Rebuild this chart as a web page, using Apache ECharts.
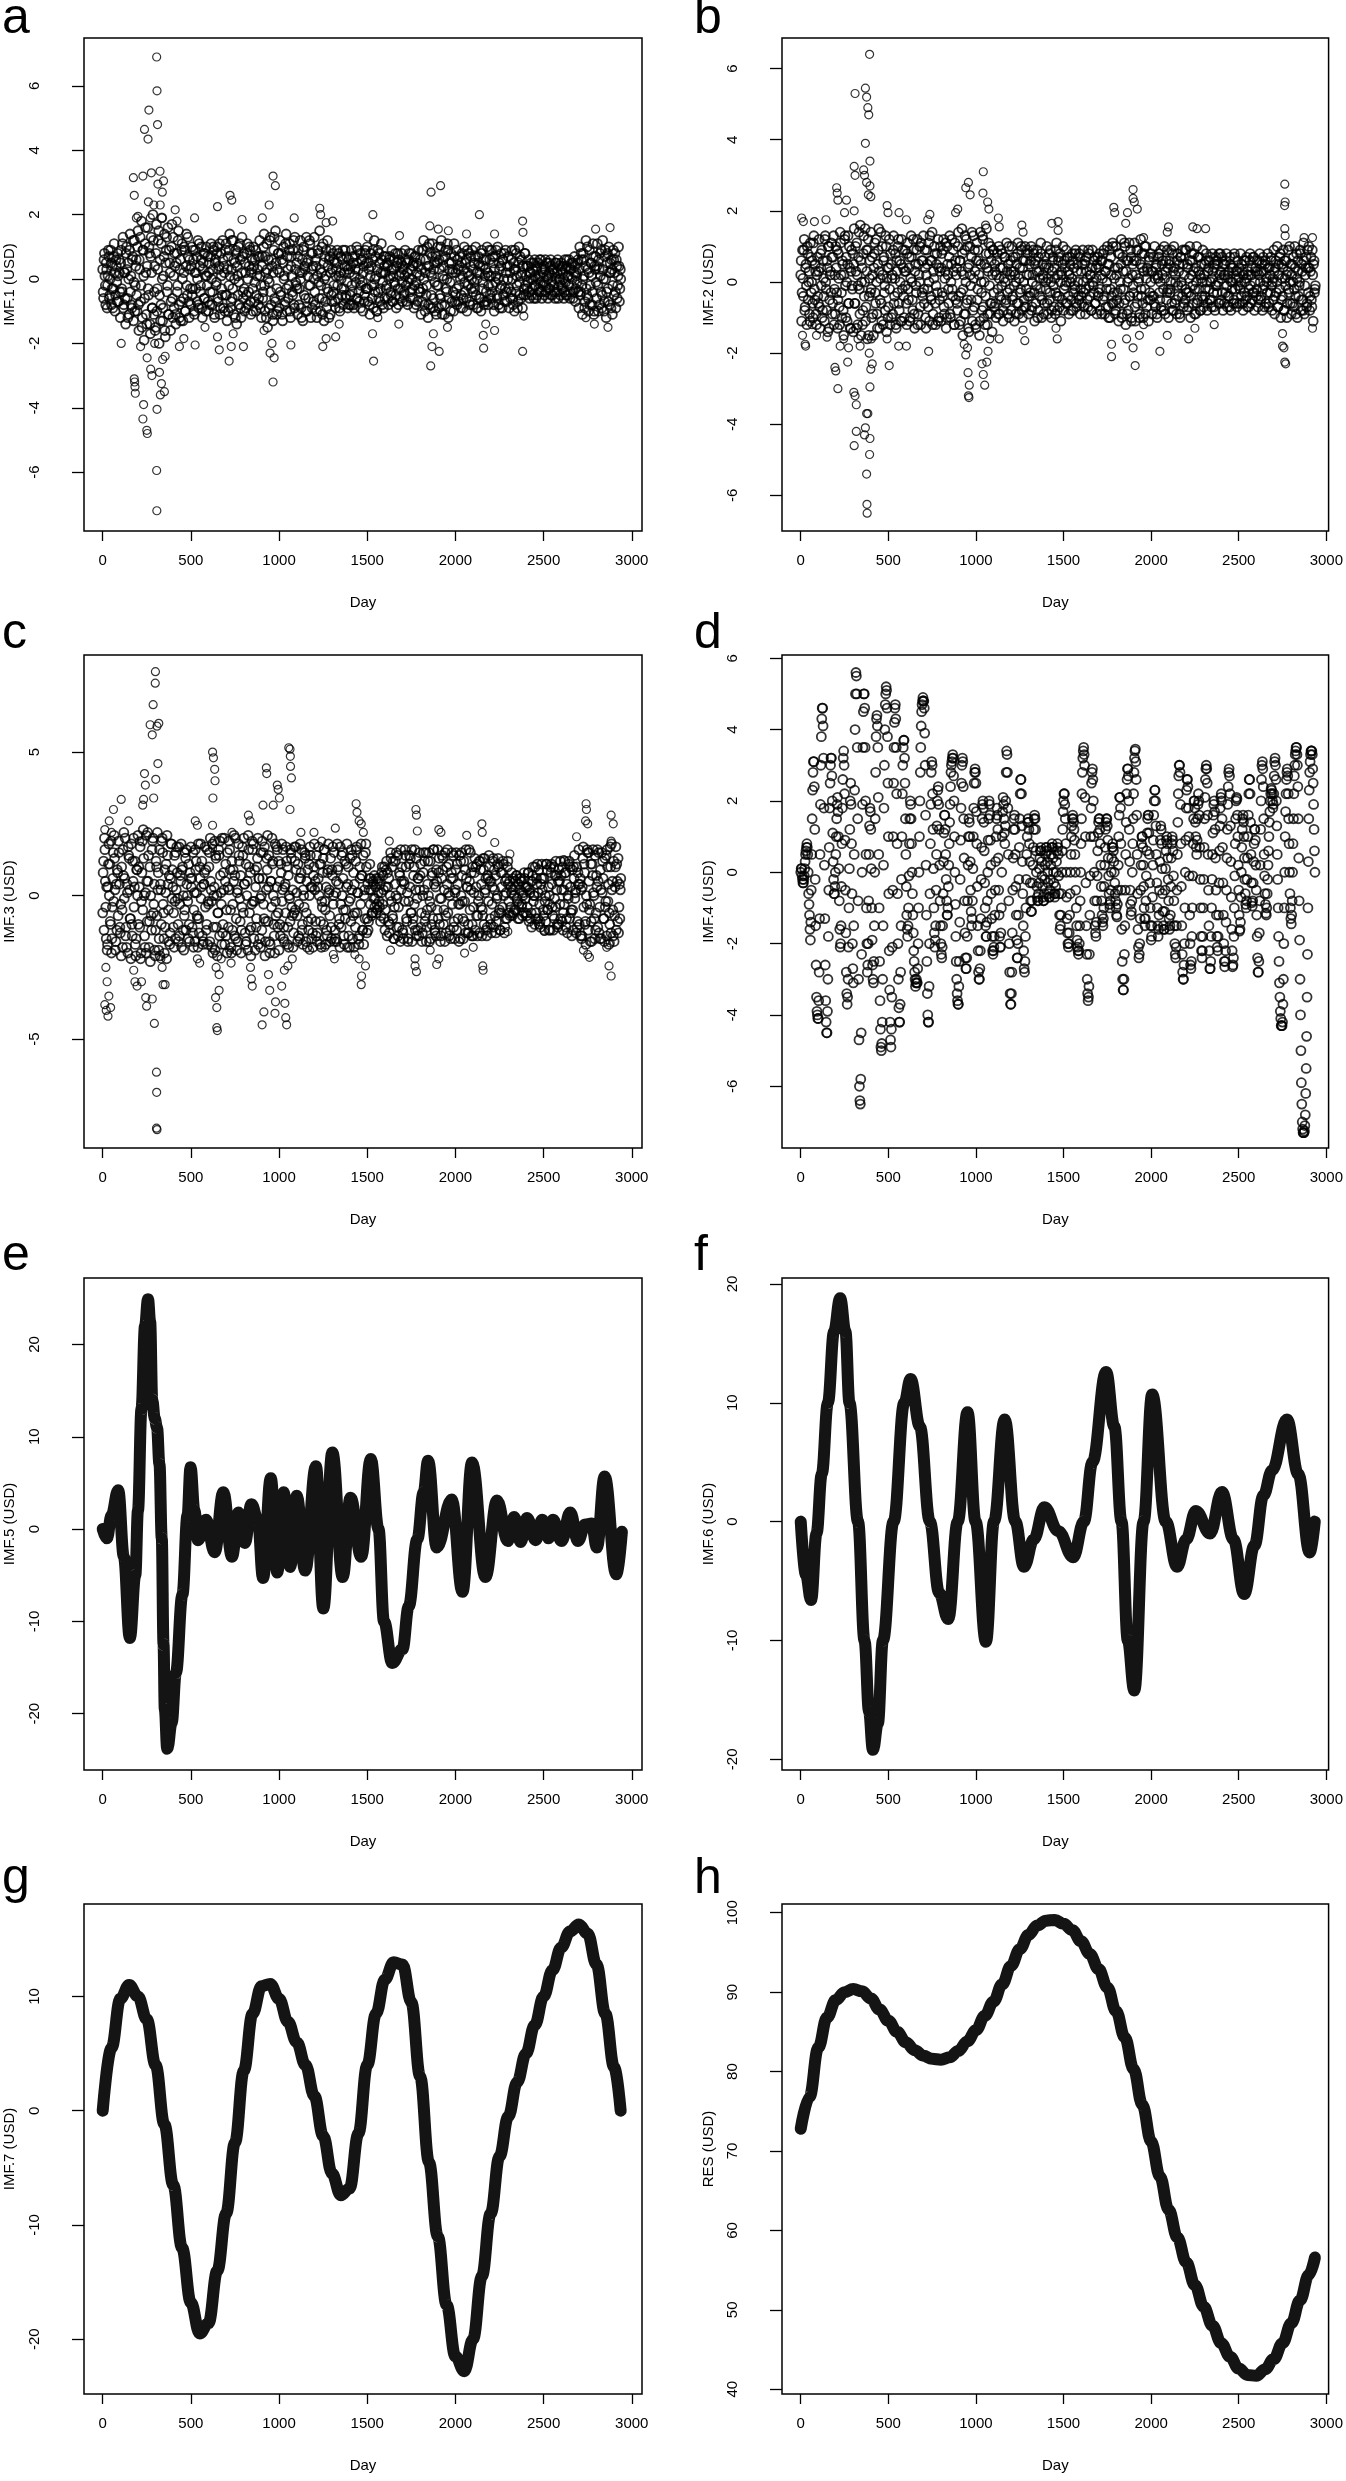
<!DOCTYPE html>
<html>
<head>
<meta charset="utf-8">
<title>IMF components</title>
<script src="https://cdn.jsdelivr.net/npm/echarts@6/dist/echarts.min.js"></script>
<style>
html,body{margin:0;padding:0;background:#fff;}
#container{width:1346px;height:2481px;}
</style>
</head>
<body>
<div id="container"></div>
<script>
// noisy IMFs are read every 5 days (plus a second pass half way between),
// the far-out points are listed apart
var step = 5;

var imf1 = [
0.3,-0.6,0.8,-0.2,0.5,-0.9,0.1,0.7,-0.5,0.9,-0.8,0.4,-0.3,1.1,-1.0,0.6,-0.1,0.8,-0.7,0.2,
-1.2,0.9,-0.4,1.3,-0.8,0.2,-1.4,1.0,-0.6,0.5,-1.1,1.4,0.1,-0.9,0.7,-1.3,1.2,-0.2,0.6,-1.0,
1.5,-1.6,0.3,-0.7,1.8,-1.2,0.9,-1.9,1.1,0.2,-1.4,1.6,-0.5,0.8,-1.7,1.3,-0.9,2.0,-1.1,0.4,
-1.5,1.7,-0.3,1.2,-2.0,0.6,-0.8,1.9,-1.3,0.1,1.4,-1.8,0.9,-0.4,1.6,-1.1,0.5,-1.6,1.0,-0.6,
1.3,-0.9,0.4,-1.4,0.8,-0.2,1.5,-1.2,0.6,-0.7,1.1,-1.3,0.2,0.9,-1.0,1.4,-0.5,0.7,-1.2,0.3,
-0.8,1.0,-0.3,0.6,-1.1,0.9,0.2,-0.7,1.2,-0.9,0.4,-0.2,1.0,-1.2,0.5,-0.6,0.8,-1.0,0.1,0.7,
-1.0,0.5,-0.4,1.1,-0.8,0.3,0.9,-1.2,0.6,-0.1,1.0,-0.7,0.4,-1.1,0.8,-0.3,1.2,-0.9,0.2,-0.5,
1.1,-1.3,0.7,-0.2,1.4,-0.9,0.3,-0.6,1.2,-1.1,0.5,0.9,-1.4,0.1,1.0,-0.8,0.6,-1.2,1.3,-0.4,
0.8,-1.0,0.2,-0.5,1.1,-0.8,0.4,0.9,-1.1,0.3,-0.3,1.0,-0.7,0.6,-1.0,0.1,0.7,-0.6,1.2,-0.9,
-1.2,0.7,-0.4,1.4,-1.0,0.2,1.1,-1.5,0.6,-0.1,1.3,-0.8,0.4,-1.3,0.9,-0.6,1.5,-1.1,0.3,0.8,
-0.9,1.2,-0.5,0.6,-1.3,1.0,0.1,-0.7,1.4,-1.0,0.3,-0.2,1.1,-1.2,0.7,-0.4,0.9,-0.8,1.3,-0.1,
0.5,-1.1,0.9,-0.3,1.2,-0.9,0.2,-1.3,1.0,0.4,-0.6,1.3,-1.0,0.6,-0.2,1.1,-1.2,0.3,0.8,-0.7,
1.3,-0.8,0.4,-1.2,0.9,-0.1,1.5,-1.0,0.2,-0.6,1.1,-1.3,0.7,0.1,-0.9,1.2,-0.4,0.6,-1.1,0.9,
-0.7,0.8,-0.2,0.5,-0.9,0.3,0.9,-0.6,0.1,-1.0,0.7,-0.3,0.6,-0.8,0.2,0.9,-0.5,0.4,-0.9,0.6,
0.2,-0.8,0.9,-0.4,0.5,-0.9,0.7,-0.1,1.0,-0.6,0.3,-0.7,0.8,-0.2,0.6,-1.0,0.4,-0.5,0.9,-0.3,
1.0,-0.7,0.3,-1.1,0.8,-0.2,0.6,-0.9,1.2,-0.4,0.1,-1.0,0.9,-0.6,0.5,-0.3,1.1,-0.8,0.2,0.7,
-0.6,0.7,-0.2,0.4,-0.8,0.6,0.1,-0.5,0.9,-0.7,0.3,-0.1,0.8,-0.9,0.5,-0.3,0.6,-0.6,0.2,0.8,
-0.7,0.3,-0.4,0.9,-0.2,0.5,-0.8,0.6,0.0,-0.6,0.8,-0.3,0.4,-0.9,0.7,-0.1,0.5,-0.7,0.9,-0.4,
0.6,-1.1,0.9,-0.3,1.2,-0.8,0.2,-0.5,1.0,-1.2,0.4,0.8,-0.9,0.1,1.1,-0.6,0.5,-1.0,0.7,-0.2,
1.0,-0.9,0.3,-0.6,1.2,-1.1,0.6,0.0,-0.8,0.9,-0.4,1.1,-1.2,0.5,-0.1,0.8,-0.7,0.3,-1.0,0.7,
-0.5,0.9,-0.8,0.3,-0.2,0.7,-0.9,0.5,0.1,-0.6,1.0,-0.4,0.6,-1.0,0.2,0.8,-0.7,0.4,-0.3,0.9,
-0.8,0.5,-0.3,1.0,-0.9,0.2,0.7,-0.6,0.4,-1.0,0.9,-0.1,0.6,-0.7,0.3,-0.4,1.0,-0.8,0.1,0.6,
-0.6,0.9,-0.2,0.5,-1.0,0.7,0.1,-0.5,1.0,-0.8,0.3,-0.3,0.8,-0.9,0.6,0.0,-0.7,0.9,-0.4,0.4,
0.7,-0.9,0.2,-0.4,0.9,-0.6,0.5,-1.0,0.3,0.8,-0.2,-0.7,1.0,-0.5,0.1,0.6,-0.9,0.4,-0.3,0.8,
-0.5,0.4,-0.1,0.6,-0.6,0.2,0.5,-0.3,0.0,-0.6,0.6,-0.2,0.3,-0.5,0.5,-0.4,0.1,0.6,-0.6,0.2,
0.4,-0.5,0.6,-0.2,0.1,-0.6,0.5,-0.3,0.6,-0.1,-0.5,0.3,0.2,-0.6,0.5,-0.4,0.6,-0.2,0.0,-0.5,
0.5,-0.3,0.2,-0.6,0.6,-0.1,0.4,-0.5,0.1,0.6,-0.6,0.3,-0.2,0.5,-0.4,0.7,-0.7,0.2,-0.1,0.6,
-0.9,1.0,-0.4,0.6,-1.1,0.8,0.1,-0.7,1.2,-0.5,0.3,-1.0,0.9,-0.2,0.5,-0.8,1.1,-1.1,0.4,0.7,
-0.6,1.1,-1.0,0.3,0.8,-0.4,-0.9,1.2,0.0,-0.7,0.9,-1.2,0.5,-0.3,1.0,-0.8,0.2,0.6,-1.1,0.9,
-0.5,0.8,-0.9,0.4,-0.2,1.0,-0.7,0.3
];
var imf1Mid = [
-0.4,0.6,0.1,-0.8,0.3,-0.2,0.9,-0.6,0.0,0.5,-0.3,-0.9,0.7,0.2,-0.5,0.4,-0.7,0.1,0.6,-0.4,
0.5,-0.3,1.1,-0.9,0.2,-0.6,0.8,0.3,-1.2,0.0,0.9,-0.4,-0.8,0.6,1.2,-0.1,-1.0,0.4,-0.5,1.0,
-0.8,0.6,1.3,-0.2,-1.5,0.9,0.1,-0.6,1.6,-1.1,0.4,-0.3,1.0,-1.4,0.7,0.2,-0.9,1.2,-0.4,-1.6,
0.8,-1.0,0.3,1.5,-0.5,-1.3,1.1,0.0,-0.9,0.7,-1.6,0.5,1.3,-0.2,-1.1,0.9,0.2,-0.7,1.7,-1.2,
0.1,0.8,-1.1,0.5,-0.4,1.2,-0.8,0.3,-1.3,0.9,0.0,-0.6,1.0,-1.0,0.4,-0.2,1.3,-0.7,0.6,-0.3,
0.4,-0.5,0.9,-1.0,0.2,-0.3,0.7,0.0,-0.8,1.1,-0.4,0.6,-0.9,0.3,0.8,-0.6,0.1,1.0,-0.2,-0.7,
0.2,-0.8,0.7,0.0,-0.4,1.0,-1.1,0.5,-0.2,0.8,-0.6,0.3,1.1,-0.9,0.1,-0.5,0.6,0.4,-1.0,0.9,
-0.5,0.3,-1.0,0.9,0.1,-0.7,1.2,-0.3,0.6,0.0,-1.2,0.8,0.4,-0.5,-0.1,1.1,-0.9,0.2,0.7,-0.6,
-0.3,0.5,-0.9,0.8,0.0,-0.4,1.0,-0.7,0.2,0.6,-1.0,0.4,-0.1,0.9,-0.5,0.3,-0.8,0.7,0.1,-0.2,
0.4,-0.6,1.0,-0.2,0.7,-1.2,0.3,0.0,-0.9,1.2,-0.4,0.6,-1.1,0.2,1.3,-0.7,0.5,-0.3,-1.0,0.8,
0.2,-0.4,0.8,-1.1,0.5,0.0,-0.8,1.1,-0.3,0.7,-0.6,0.9,-1.0,0.4,0.1,-0.5,1.2,-0.9,0.3,-0.2,
-0.3,0.7,-0.8,0.2,0.0,-1.2,0.6,0.9,-0.5,0.3,-1.0,0.5,0.1,-0.6,1.2,-0.2,0.8,-0.9,0.4,0.0,
-0.4,0.6,-1.0,0.1,0.8,-0.6,0.3,-0.2,1.0,-1.1,0.5,0.0,-0.7,0.9,-0.3,0.4,-1.2,0.7,0.2,-0.5,
0.3,-0.4,0.6,-0.7,0.1,0.5,-0.2,0.8,-0.9,0.2,0.0,-0.5,0.9,-0.3,0.4,-0.6,0.7,-0.1,0.3,-0.8,
-0.5,0.4,-0.2,0.7,-0.8,0.1,0.3,-0.6,0.5,0.9,-0.4,0.0,-0.9,0.6,-0.1,0.2,-0.7,0.8,-0.3,0.5,
-0.3,0.5,-0.8,0.1,0.4,-0.6,0.9,-0.2,0.0,0.7,-1.0,0.3,-0.4,0.8,-0.7,0.2,0.6,-0.1,-0.9,0.4,
0.2,-0.3,0.5,-0.6,0.0,0.7,-0.4,0.3,-0.7,0.1,0.6,-0.2,-0.5,0.4,0.8,-0.8,0.1,-0.3,0.5,-0.1,
0.4,-0.5,0.1,0.6,-0.7,0.2,-0.1,0.8,-0.4,0.3,0.0,-0.6,0.5,-0.2,0.7,-0.8,0.2,0.4,-0.3,0.1,
-0.4,0.3,-0.7,0.9,0.0,-1.0,0.6,-0.2,0.4,-0.8,1.1,0.2,-0.5,0.7,-0.9,0.3,-0.1,0.8,-1.1,0.5,
-0.2,0.6,-0.5,1.0,-0.8,0.1,0.4,-1.1,0.7,-0.3,0.0,0.9,-0.6,0.3,-1.0,0.5,0.2,-0.4,1.1,-0.7,
0.2,-0.3,0.6,-0.7,0.4,0.0,-0.5,0.8,-0.9,0.3,-0.1,0.5,-0.6,0.9,-0.2,0.1,-0.8,0.7,0.0,-0.4,
0.3,-0.1,0.7,-0.5,0.0,-0.9,0.5,0.2,-0.6,0.8,-0.3,0.4,-0.8,0.1,0.6,-0.7,0.2,-0.2,0.9,-0.5,
0.1,-0.4,0.7,-0.8,0.3,-0.1,0.9,-0.6,0.0,0.5,-0.9,0.4,-0.2,0.6,-0.5,0.8,-0.3,0.2,-0.7,0.0,
-0.3,0.4,-0.6,0.6,0.0,-0.8,0.3,0.9,-0.4,0.1,-0.9,0.5,-0.1,0.7,-0.6,0.2,0.4,-0.5,0.8,-0.2,
0.1,-0.3,0.4,-0.4,0.2,0.0,-0.5,0.3,0.5,-0.2,0.1,-0.6,0.4,0.0,-0.3,0.6,-0.1,-0.4,0.3,-0.2,
-0.1,0.3,-0.4,0.5,0.0,-0.3,0.2,0.4,-0.5,0.1,0.3,-0.2,-0.4,0.5,0.0,0.2,-0.6,0.4,-0.1,0.3,
-0.2,0.4,0.0,-0.4,0.3,-0.5,0.6,0.1,-0.2,0.3,-0.4,0.5,0.0,-0.6,0.2,0.4,-0.3,0.1,0.5,-0.4,
0.3,-0.5,0.8,-0.2,0.0,0.6,-0.9,0.4,-0.3,1.0,-0.6,0.2,-0.8,0.5,0.1,-0.4,0.7,-1.0,0.3,-0.1,
0.4,-0.2,0.6,-0.8,0.1,0.9,-0.5,0.3,-1.0,0.7,0.0,-0.4,0.8,-0.7,0.2,0.5,-0.9,0.3,-0.2,0.6,
0.2,-0.4,0.6,-0.6,0.1,0.4,-0.3,0.0
];
var imf1Far = [
[105,-2.0],[174,3.15],[179,2.6],[179,-3.1],[181,-3.2],[183,-3.35],[185,-3.55],[191,1.9],[200,1.95],[228,3.2],
[237,4.65],[228,-4.35],[232,-3.9],[250,-4.7],[253,-4.8],[257,4.35],[262,5.25],[259,2.4],[252,-2.45],[276,3.3],
[272,-2.8],[279,-3.0],[306,6.9],[308,5.85],[311,4.8],[306,-5.95],[307,-7.2],[308,-4.05],[313,2.95],[325,3.35],
[326,2.3],[322,-2.9],[333,-3.25],[327,-3.6],[345,3.05],[338,2.7],[340,-2.5],[350,-3.5],[354,-2.4],[336,1.9],
[290,2.3],[295,-2.0],[270,1.9],[215,-2.1],[411,2.15],[435,-2.1],[460,-1.85],[421,1.8],[521,1.9],[524,-2.05],
[580,-1.5],[651,2.25],[651,-1.8],[661,-2.2],[722,2.6],[732,2.45],[717,-2.55],[729,-2.1],[740,-1.7],[790,1.85],
[798,-2.1],[905,1.9],[944,2.3],[966,3.2],[979,2.9],[949,-2.3],[960,-2.0],[972,-2.45],[966,-3.2],[915,-1.6],
[1086,1.9],[1067,-2.05],[1231,2.2],[1236,2.0],[1248,-2.1],[1267,1.75],[1267,-1.85],[1304,1.8],[1321,-1.8],[1341,-1.4],
[1532,2.0],[1536,-2.55],[1530,-1.7],[1560,-1.2],[1505,1.3],[1683,1.35],[1679,-1.4],[1862,2.7],[1916,2.9],[1860,-2.7],
[1867,-2.1],[1908,-2.25],[1903,1.55],[1955,-1.5],[1960,1.5],[1855,1.65],[1875,-1.7],[2063,1.4],[2136,2.0],[2160,-2.15],
[2158,-1.75],[2172,-1.4],[2222,1.4],[2222,-1.6],[2381,1.8],[2383,1.45],[2381,-2.25],[2388,-1.15],[2795,1.55],[2877,1.6],
[2740,-1.2],[2788,-1.4],[2865,-1.5]
];

var imf2 = [
0.2,-1.1,0.9,-0.4,1.2,-0.7,0.5,-1.2,0.8,0.0,-0.9,1.1,-0.3,0.6,-1.0,1.3,-0.5,0.3,-1.2,0.7,
-0.6,1.2,-1.3,0.4,0.9,-0.8,0.1,-1.1,1.3,-0.2,0.6,-1.4,1.0,-0.5,0.3,1.1,-0.9,0.7,-1.2,0.2,
1.0,-0.3,-1.3,0.8,-0.7,1.4,0.2,-1.0,0.5,-1.5,1.2,-0.1,0.7,-1.1,1.3,-0.6,0.4,-1.3,0.9,-0.2,
-1.4,1.5,-0.6,0.3,1.1,-1.2,0.7,-0.2,1.6,-1.5,0.4,-0.8,1.3,0.0,-1.1,0.9,-1.6,1.2,-0.4,0.6,
1.4,-1.0,0.2,-1.5,0.8,-0.3,1.2,-0.9,0.5,1.5,-1.3,0.1,-0.6,1.0,-1.2,0.7,-0.1,1.3,-1.4,0.4,
-0.7,1.2,-1.2,0.5,0.1,-0.9,1.3,-0.4,0.8,-1.3,0.3,1.0,-0.6,0.6,-1.1,1.2,-0.2,0.4,-1.0,0.9,
0.3,-1.2,1.1,-0.5,0.7,-1.0,1.3,0.0,-0.8,0.9,-1.3,0.5,-0.3,1.2,-0.9,0.2,1.0,-1.2,0.6,-0.4,
1.3,-0.6,0.4,-1.3,0.9,-0.2,1.1,-1.1,0.6,-0.5,1.4,-0.9,0.1,0.8,-1.2,0.5,-0.3,1.2,-1.0,0.3,
-1.1,0.8,-0.4,1.2,-0.9,0.3,-1.3,1.0,0.2,-0.6,1.3,-1.0,0.5,-0.2,0.9,-1.2,1.1,-0.5,0.4,-0.8,
1.4,-1.2,0.6,-0.3,1.5,-1.5,0.2,0.9,-0.9,1.2,-0.5,0.4,-1.4,1.0,-0.1,0.7,-1.1,1.3,-0.7,0.3,
-1.3,1.1,-0.2,0.6,-1.5,1.4,0.0,-0.8,1.2,-1.0,0.5,-0.4,1.5,-1.2,0.3,0.8,-0.9,1.0,-0.6,0.2,
0.9,-0.7,0.3,-1.0,0.6,-0.2,1.0,-0.9,0.4,-0.5,0.8,-1.1,0.1,0.7,-0.6,1.1,-0.3,0.5,-1.0,0.2,
-0.8,1.0,-0.4,0.3,-1.1,0.7,0.0,-0.6,1.1,-0.9,0.4,-0.2,0.9,-1.0,0.6,-0.5,1.0,-0.7,0.2,0.8,
-0.9,0.5,-0.3,1.0,-0.7,0.2,0.8,-1.1,0.6,-0.1,0.9,-0.8,0.3,-0.4,1.1,-1.0,0.5,0.1,-0.6,0.7,
-0.2,1.0,-0.9,0.4,-0.5,0.9,-1.0,0.3,0.7,-0.7,0.1,-0.3,1.1,-0.8,0.6,-0.4,0.8,-1.1,0.2,0.5,
-0.8,0.6,-0.1,0.9,-0.6,0.3,-0.9,0.7,0.0,-0.5,0.8,-0.8,0.4,-0.2,0.9,-0.7,0.5,-0.4,0.8,-0.9,
0.3,-0.6,0.9,-0.3,0.5,-0.9,0.7,0.1,-0.7,0.8,-0.4,0.2,-0.8,0.9,-0.1,0.6,-0.6,0.4,-0.9,0.7,
-0.3,0.8,-0.8,0.2,0.6,-0.5,0.9,-0.9,0.3,-0.2,1.0,-0.7,0.5,-1.0,0.7,-0.4,1.1,-0.6,0.1,-0.9,
1.0,-0.5,0.4,-1.1,0.8,-0.2,1.2,-0.9,0.3,-0.6,1.0,-1.2,0.6,0.0,-0.8,1.1,-0.4,0.7,-1.0,0.5,
-0.3,1.1,-1.1,0.6,-0.6,0.9,0.1,-0.9,1.2,-0.4,0.4,-1.0,0.8,-0.2,1.0,-0.7,0.3,-1.1,0.6,-0.5,
0.8,-0.9,0.3,-0.4,1.0,-0.7,0.5,-1.0,0.1,0.7,-0.5,0.9,-0.8,0.2,-0.2,1.0,-0.9,0.6,-0.3,0.4,
-1.0,0.6,-0.2,0.9,-0.8,0.3,1.0,-0.6,0.0,-0.9,0.8,-0.4,0.5,-1.0,0.7,-0.1,0.9,-0.7,0.2,-0.5,
0.9,-0.8,0.4,-0.3,1.0,-1.0,0.2,0.6,-0.6,0.8,-0.2,-0.9,1.0,-0.5,0.3,0.7,-0.8,0.1,-0.4,0.9,
-0.7,0.5,-0.2,0.8,-0.8,0.3,0.6,-0.5,0.0,-0.7,0.8,-0.3,0.4,-0.8,0.7,-0.1,0.5,-0.6,0.2,0.8,
-0.5,0.7,-0.8,0.2,0.5,-0.3,0.8,-0.7,0.1,-0.4,0.7,-0.8,0.4,0.0,-0.6,0.8,-0.2,0.3,-0.7,0.6,
0.1,-0.6,0.8,-0.4,0.3,-0.8,0.6,0.0,-0.5,0.7,-0.7,0.2,-0.2,0.8,-0.6,0.4,-0.3,0.7,-0.8,0.3,
-0.4,0.6,-0.7,0.2,0.8,-0.5,0.3,-0.8,0.7,-0.1,0.5,-0.6,0.0,0.8,-0.7,0.4,-0.3,0.6,-0.8,0.1,
0.9,-0.9,0.4,-0.3,1.0,-0.7,0.2,0.7,-1.0,0.5,-0.4,0.9,-0.8,0.1,0.6,-1.0,0.3,-0.2,1.0,-0.6,
-0.9,0.5,0.0,-0.7,1.0,-0.4,0.8,-1.0,0.3,-0.1,0.9,-0.8,0.5,-0.5,1.1,-0.9,0.2,0.7,-0.6,0.4,
1.0,-0.8,0.3,-0.5,0.9,-1.1,0.6,-0.2
];
var imf2Mid = [
0.6,-0.3,0.1,0.9,-0.8,0.4,-0.1,1.0,-0.5,0.3,-1.1,0.7,0.0,-0.6,1.1,-0.2,0.5,-0.9,0.2,-0.4,
0.3,-0.7,0.8,-0.1,-1.0,0.6,-0.4,1.2,0.0,-0.8,0.4,1.0,-1.3,0.2,-0.3,0.7,-0.6,1.3,-0.2,-0.9,
0.4,0.9,-0.5,0.1,-1.2,1.1,-0.3,0.6,-0.8,0.2,1.3,-1.0,0.0,0.5,-0.6,1.0,-1.3,0.3,-0.1,0.8,
0.5,-0.6,1.0,-1.3,0.2,-0.1,1.4,-0.9,0.6,0.0,-1.2,0.8,-0.4,1.5,-0.7,0.3,0.9,-1.5,0.1,-0.3,
-0.2,0.7,-0.9,0.4,1.1,-0.6,0.0,-1.3,0.9,0.3,-0.5,1.4,-1.1,0.2,0.6,-0.3,-0.8,1.0,0.1,-1.0,
0.4,-0.2,0.8,-1.0,0.2,0.9,-0.6,0.1,-1.2,0.6,-0.3,1.2,-0.8,0.0,0.5,-1.1,0.9,-0.4,0.3,-0.1,
-0.6,0.8,-0.2,0.4,-1.1,0.1,0.7,-0.5,1.2,-0.9,0.3,-0.1,0.9,-1.2,0.5,0.0,-0.7,1.1,-0.3,0.6,
-0.2,0.9,-1.0,0.2,0.5,-0.7,0.0,1.3,-0.4,0.6,-1.2,0.3,1.0,-0.6,-0.1,0.8,-1.1,0.4,-0.5,1.0,
0.4,-0.3,0.9,-0.7,0.1,1.1,-1.0,0.5,-0.2,0.7,-0.9,0.0,1.2,-0.4,0.3,-1.2,0.6,0.2,-0.6,1.0,
-0.4,0.6,-1.1,0.3,0.8,-0.2,-0.9,1.3,0.0,-0.6,1.0,-1.3,0.5,0.2,-0.5,1.4,-0.8,0.1,0.9,-1.2,
0.6,-0.5,0.9,0.2,-1.1,0.5,-0.3,1.3,-0.7,0.0,-1.2,0.8,0.4,-0.9,1.1,-0.1,-0.6,0.6,-1.4,0.9,
-0.3,0.5,-0.6,0.2,0.8,-0.9,0.1,-0.4,0.9,-0.1,0.4,-0.8,0.7,0.0,-0.5,0.3,-0.9,1.0,-0.2,0.6,
0.3,-0.5,0.7,-0.1,0.2,-0.9,0.5,0.8,-0.6,0.1,-0.3,1.0,-0.8,0.4,0.0,-0.7,0.6,-0.2,0.9,-0.4,
0.2,-0.4,0.6,-0.8,0.0,0.9,-0.3,0.5,-0.6,0.3,-1.0,0.7,0.1,-0.2,0.8,-0.5,0.2,-0.9,0.4,0.0,
0.5,-0.6,0.1,0.8,-0.3,0.0,-0.8,0.6,-0.1,0.4,-0.9,0.9,-0.4,0.2,0.7,-0.7,0.0,0.3,-0.5,1.0,
-0.2,0.4,-0.6,0.0,0.7,-0.4,0.2,0.5,-0.8,0.1,0.6,-0.3,-0.1,0.8,-0.6,0.3,0.0,-0.5,0.7,-0.2,
-0.4,0.5,0.0,-0.7,0.6,-0.2,0.3,-0.5,0.9,-0.1,0.2,-0.8,0.4,0.0,-0.3,0.7,-0.6,0.1,0.5,-0.4,
0.4,-0.2,0.6,-0.9,0.1,0.8,-0.4,0.3,-0.7,0.0,0.5,-1.0,0.9,-0.2,0.2,-0.6,1.0,-0.3,0.4,-0.8,
0.2,-0.3,0.8,-0.6,0.0,0.5,-1.0,0.7,-0.2,1.1,-0.5,0.3,-0.9,0.6,0.1,-0.4,0.9,-1.1,0.2,-0.1,
0.6,-0.7,0.2,0.9,-0.4,0.0,-1.0,0.5,-0.2,0.8,-0.6,0.3,1.0,-0.9,0.1,0.4,-0.5,0.7,-0.3,0.0,
0.3,-0.4,0.7,-0.6,0.1,0.4,-0.9,0.2,0.8,-0.3,0.0,-0.7,0.5,0.6,-0.8,0.1,0.3,-0.5,0.9,-0.2,
0.5,-0.3,0.0,-0.6,0.8,-0.8,0.4,0.2,-0.5,0.6,-0.1,0.3,-0.9,0.7,0.0,-0.4,0.5,-0.6,0.9,-0.2,
-0.3,0.5,-0.7,0.1,0.6,-0.4,0.8,-0.1,0.3,-0.9,0.4,0.0,-0.6,0.7,-0.2,0.2,-0.8,0.5,0.0,-0.5,
0.2,-0.4,0.6,0.0,-0.6,0.4,-0.2,0.7,-0.5,0.1,0.3,-0.7,0.5,-0.1,0.6,-0.3,0.0,0.8,-0.6,0.3,
0.1,-0.3,0.5,-0.6,0.2,0.6,-0.1,-0.4,0.3,-0.7,0.5,0.0,-0.2,0.4,-0.5,0.7,0.1,-0.6,0.3,-0.1,
0.4,-0.2,0.0,0.5,-0.6,0.2,-0.3,0.6,0.1,-0.4,0.3,-0.7,0.6,-0.1,0.2,-0.5,0.7,-0.3,0.0,0.4,
-0.2,0.3,-0.5,0.6,0.0,-0.4,0.5,-0.2,0.3,-0.7,0.6,0.1,-0.3,0.4,-0.6,0.2,0.7,-0.1,0.0,-0.5,
0.3,-0.4,0.6,0.0,-0.7,0.5,-0.2,0.8,-0.5,0.1,0.4,-0.8,0.6,-0.1,0.2,-0.6,0.9,-0.3,0.0,0.5,
0.2,-0.6,0.7,-0.2,0.4,-0.9,0.1,0.6,-0.4,0.0,0.8,-0.5,0.3,-0.8,0.6,-0.1,0.4,-0.7,0.9,-0.3,
0.4,-0.4,0.7,-0.7,0.2,0.5,-0.3,-0.1
];
var imf2Far = [
[5,1.8],[15,1.7],[10,-1.5],[25,-1.75],[28,-1.8],[78,1.7],[65,-1.2],[90,-1.5],[144,1.75],[150,-1.55],
[195,-2.4],[200,-2.5],[212,-3.0],[205,2.65],[208,2.5],[212,2.3],[225,-1.8],[245,-1.6],[250,1.95],[261,2.3],
[273,-1.85],[268,-2.25],[310,5.3],[305,3.25],[310,3.0],[305,2.0],[303,-3.1],[317,-3.45],[310,-3.2],[305,-4.6],
[317,-4.2],[327,-1.6],[339,-1.8],[369,5.45],[376,5.2],[383,4.9],[388,4.7],[393,6.4],[369,3.9],[359,3.15],
[364,3.0],[376,2.8],[386,2.45],[395,3.4],[395,2.7],[400,2.4],[369,-4.1],[364,-4.3],[376,-5.4],[378,-6.25],
[379,-6.5],[376,-3.7],[383,-3.7],[393,-4.85],[395,-4.4],[400,-2.45],[408,-2.3],[395,-2.95],[391,-2.0],[403,-1.6],
[493,2.15],[498,1.95],[505,-2.35],[493,-1.6],[561,1.95],[559,-1.8],[603,1.75],[603,-1.8],[730,-1.95],[725,1.75],
[737,1.9],[884,1.95],[896,2.05],[942,2.65],[957,2.8],[967,2.45],[957,-3.2],[960,-3.25],[962,-2.9],[955,-2.55],
[952,-1.85],[942,-2.05],[933,-1.75],[1042,3.1],[1040,2.5],[1067,2.25],[1074,2.05],[1055,1.6],[1035,-2.3],[1042,-2.6],
[1050,-2.9],[1062,-2.25],[1069,-1.95],[1079,-1.6],[1128,1.8],[1133,1.55],[1133,-1.6],[1262,1.6],[1269,1.4],[1269,-1.35],
[1279,-1.65],[1433,1.65],[1469,1.7],[1469,1.45],[1464,-1.6],[1457,-1.3],[1787,2.1],[1792,1.95],[1774,-2.1],[1774,-1.75],
[1865,1.95],[1855,1.65],[1897,2.6],[1897,2.35],[1904,2.25],[1921,2.05],[1909,-2.35],[1897,-1.85],[1860,-1.6],[1933,-1.5],
[1957,1.25],[1957,-1.2],[2050,-1.95],[2092,1.4],[2099,1.55],[2092,-1.5],[2238,1.55],[2262,1.5],[2311,1.5],[2214,-1.6],
[2250,-1.3],[2360,-1.2],[2763,2.75],[2765,2.25],[2762,2.15],[2763,1.5],[2765,1.3],[2750,-1.8],[2758,-1.85],[2763,-2.25],
[2768,-2.3],[2750,-1.45],[2873,1.25],[2921,1.25],[2921,-1.3]
];

var imf3 = [
-0.6,1.2,2.0,0.5,-1.5,-1.9,0.3,1.8,1.1,-1.0,-2.0,-0.4,1.5,2.1,0.2,-1.6,-1.2,0.8,1.9,0.4,
-1.3,-2.1,-0.5,1.6,2.2,0.6,-1.4,-1.8,0.1,1.7,1.3,-0.8,-2.2,-1.0,1.2,2.0,0.3,-1.7,-1.5,0.9,
2.1,1.0,-1.1,-2.2,-0.2,1.9,2.3,0.0,-1.8,-2.0,0.5,2.2,1.4,-0.9,-2.3,-0.7,1.6,2.0,-0.3,-1.9,
-1.2,1.0,2.2,0.8,-1.5,-2.1,0.2,1.9,1.5,-0.6,-2.0,-1.1,1.1,2.1,0.4,-1.6,-1.7,0.6,1.8,0.9,
-1.1,-1.8,-0.2,1.5,1.7,-0.1,-1.6,-1.4,0.7,1.8,0.9,-1.2,-1.9,-0.5,1.3,1.6,0.0,-1.5,-1.0,0.8,
1.7,0.6,-1.3,-1.8,0.1,1.6,1.2,-0.7,-1.8,-0.8,1.0,1.8,0.3,-1.4,-1.6,0.4,1.7,0.9,-1.0,-1.7,
-0.3,1.5,2.0,0.2,-1.8,-2.0,0.0,1.9,1.4,-1.1,-2.1,-0.6,1.4,1.9,0.1,-1.7,-1.3,0.8,2.0,0.5,
-1.4,-2.0,0.3,1.9,1.6,-0.5,-2.0,-1.2,0.9,2.1,0.7,-1.5,-1.9,0.2,1.8,1.2,-0.9,-2.0,-0.4,1.4,
2.0,0.4,-1.7,-1.6,0.5,2.1,1.0,-1.2,-2.1,-0.3,1.6,1.8,-0.2,-1.9,-1.1,1.0,2.0,0.6,-1.5,-1.8,
0.0,1.9,1.5,-0.8,-2.1,-0.9,1.3,2.1,0.3,-1.6,-1.7,0.5,2.0,1.2,-1.0,-2.0,-0.2,1.7,1.6,-0.6,
-1.9,-1.0,1.1,1.8,0.2,-1.5,-1.6,0.4,1.7,1.0,-1.1,-1.8,-0.1,1.6,1.3,-0.7,-1.8,-0.6,1.2,1.7,
0.1,-1.6,-1.4,0.6,1.8,0.8,-1.2,-1.7,0.0,1.5,1.4,-0.6,-1.8,-0.9,1.1,1.7,0.3,-1.5,-1.3,0.7,
1.8,0.5,-1.4,-1.6,0.3,1.7,1.1,-0.9,-1.8,-0.4,1.3,1.6,-0.2,-1.7,-1.2,0.8,1.8,0.2,-1.6,-1.1,
0.9,1.7,0.0,-1.6,-1.5,0.5,1.8,1.0,-1.0,-1.8,-0.3,1.4,1.5,-0.5,-1.7,-0.8,1.1,1.8,0.4,-1.4,
-1.8,-0.1,1.6,1.4,-0.7,-1.8,-0.6,1.2,1.7,0.1,-1.5,-1.4,0.6,1.8,0.7,-1.2,-1.7,0.2,1.5,1.0,
-0.8,-1.2,0.2,1.1,0.6,-0.7,-0.6,0.4,0.7,-0.1,-0.6,-0.3,0.5,0.6,-0.4,-0.9,0.1,1.0,0.7,-0.8,
-1.2,0.3,1.2,0.8,-0.9,-1.3,0.0,1.3,1.0,-0.8,-1.5,-0.4,1.2,1.5,-0.1,-1.4,-1.1,0.7,1.6,0.5,
-1.2,-1.5,0.4,1.6,1.0,-0.9,-1.6,-0.2,1.4,1.3,-0.6,-1.6,-0.8,1.0,1.6,0.2,-1.4,-1.2,0.6,1.5,
0.7,-1.1,-1.6,0.0,1.5,1.2,-0.7,-1.6,-0.5,1.2,1.5,-0.2,-1.5,-1.0,0.8,1.6,0.4,-1.3,-1.4,0.5,
1.6,0.8,-1.0,-1.6,-0.1,1.4,1.3,-0.5,-1.6,-0.7,1.0,1.6,0.1,-1.4,-1.2,0.6,1.5,0.6,-1.1,-1.5,
0.2,1.5,1.1,-0.8,-1.6,-0.3,1.2,1.5,-0.2,-1.5,-0.9,0.9,1.6,0.3,-1.3,-1.3,0.5,1.5,0.8,-1.0,
-1.4,0.1,1.3,1.0,-0.7,-1.4,-0.2,1.2,1.2,-0.4,-1.4,-0.7,0.9,1.3,0.2,-1.2,-1.1,0.6,1.4,0.5,
-1.0,-1.3,0.3,1.3,0.9,-0.7,-1.3,-0.1,1.1,1.0,-0.5,-1.2,-0.6,0.8,1.2,0.0,-1.1,-0.8,0.6,1.0,
0.4,-0.6,-0.7,0.3,0.8,0.2,-0.6,-0.5,0.5,0.7,-0.1,-0.8,-0.3,0.6,0.6,-0.4,-0.7,0.1,0.8,0.3,
-0.6,-0.7,0.3,0.8,0.2,-0.8,-0.6,0.5,1.0,0.0,-1.0,-0.8,0.6,1.1,0.1,-1.0,-0.9,0.4,1.1,0.6,
-0.7,-1.2,0.0,1.1,0.9,-0.5,-1.2,-0.3,1.0,1.1,-0.4,-1.2,-0.8,0.7,1.2,0.2,-1.1,-1.0,0.5,1.2,
0.7,-0.9,-1.2,0.2,1.2,0.8,-0.8,-1.3,-0.1,1.2,1.0,-0.6,-1.4,-0.5,1.0,1.4,0.1,-1.3,-1.1,0.8,
1.6,0.4,-1.4,-1.5,0.3,1.7,1.1,-1.0,-1.7,-0.3,1.5,1.5,-0.5,-1.6,-0.9,1.1,1.6,0.0,-1.5,-1.2,
0.7,1.6,0.5,-1.3,-1.5,0.2,1.5,1.2,-0.8,-1.6,-0.4,1.4,1.6,-0.2,-1.7,-1.0,1.0,1.8,0.5,-1.4,
-1.6,0.3,1.7,1.1,-0.9,-1.3,0.4,0.2
];
var imf3Mid = [
0.8,-1.2,1.6,-0.4,0.3,-1.7,1.1,0.0,-0.9,1.9,-1.5,0.6,-0.2,1.3,-1.9,0.4,0.9,-0.7,1.5,-1.1,
-0.3,1.0,-1.8,0.7,-0.1,2.0,-1.1,0.4,-2.0,1.4,0.2,-0.8,1.8,-1.4,0.5,-0.4,1.2,-2.1,0.9,0.0,
-1.0,0.3,1.7,-2.0,0.8,-0.5,1.3,-1.4,0.1,2.1,-0.9,0.5,-1.8,1.0,0.0,-1.2,1.9,-0.6,0.4,-2.1,
1.2,-0.7,0.2,-1.9,1.6,0.4,-1.0,2.0,-0.3,-1.5,0.9,0.1,-2.2,1.4,-0.5,0.7,-1.3,1.8,-0.1,0.3,
-0.6,1.4,-1.5,0.2,0.8,-1.0,1.7,-0.3,0.5,-1.8,1.0,0.0,-0.7,1.5,-1.2,0.4,-0.2,1.1,-1.6,0.6,
0.3,-1.1,1.5,-0.5,-1.6,0.9,0.1,-0.8,1.8,-1.3,0.6,-0.1,1.2,-1.7,0.4,0.8,-0.4,-1.2,1.6,-0.2,
1.0,-1.6,0.5,-0.2,1.8,-1.1,0.3,-1.9,1.3,0.0,-0.6,1.6,-1.4,0.7,-0.3,2.0,-1.0,0.2,-1.7,1.1,
-0.5,1.5,-1.1,0.2,0.9,-1.8,1.2,-0.3,0.5,-1.4,2.0,-0.8,0.1,-1.6,1.4,-0.1,0.7,-1.2,1.7,-0.6,
0.4,-1.3,1.1,0.0,-1.9,1.6,-0.6,0.8,-1.1,1.9,-0.2,-1.5,0.9,0.3,-0.8,1.3,-1.7,0.6,-0.1,1.5,
-1.2,0.6,-0.3,1.7,-1.6,0.2,0.9,-0.9,1.4,-2.0,0.5,-0.4,1.1,0.0,-1.4,1.8,-0.7,0.3,-1.1,1.2,
0.5,-1.4,0.8,-0.2,1.6,-1.1,0.3,-0.6,1.2,-1.7,0.7,0.0,-0.9,1.5,-0.4,0.2,-1.3,1.7,-0.5,0.9,
-0.7,1.1,-0.3,-1.5,0.6,1.6,-1.0,0.2,-0.4,1.3,-1.6,0.5,0.9,-1.2,0.0,1.4,-0.8,0.3,-1.8,1.0,
0.2,-0.9,1.4,-1.3,0.6,0.0,-1.7,1.1,-0.2,0.8,-1.0,1.6,-0.5,0.3,-1.4,0.9,0.1,-0.7,1.3,-1.5,
0.7,-0.3,1.5,-1.2,0.1,-1.6,0.9,0.4,-0.8,1.7,-1.1,0.0,0.6,-1.4,1.2,-0.5,0.3,-1.8,1.0,-0.2,
1.3,-0.9,0.2,-1.5,0.8,0.4,-1.1,1.6,-0.6,0.1,-1.7,1.0,-0.3,0.7,-1.2,1.4,0.0,-0.8,1.8,-1.3,
0.4,-0.9,0.6,-0.3,0.2,-0.6,0.5,-0.1,-0.4,0.3,0.6,-0.5,0.1,-0.2,0.4,-0.7,0.8,-0.3,0.2,1.0,
-0.5,0.9,-1.4,0.3,0.6,-1.0,1.5,-0.2,-0.7,1.2,-1.5,0.4,0.0,-1.1,1.4,-0.4,0.8,-1.6,0.2,1.0,
-1.3,0.5,-0.2,1.4,-0.8,0.1,-1.5,1.1,0.3,-0.6,1.6,-1.0,0.7,-0.3,-1.2,1.3,-0.1,0.6,-1.4,0.2,
1.1,-0.6,-1.3,0.8,0.2,-0.9,1.5,-1.1,0.4,0.0,-1.6,1.2,-0.4,0.7,-0.8,1.6,-1.2,0.3,0.9,-0.5,
-0.8,1.3,-0.1,-1.4,0.6,0.9,-1.0,0.2,1.5,-1.3,0.4,-0.6,1.1,0.0,-1.5,0.8,-0.3,1.4,-0.9,0.1,
0.9,-1.2,0.4,-0.3,1.4,-1.5,0.0,0.7,-0.8,1.2,-0.2,-1.3,0.6,0.3,-1.0,1.6,-0.5,0.2,-1.4,1.0,
-0.4,0.8,-1.2,0.3,1.1,-0.7,0.0,-1.3,0.9,0.4,-0.5,1.3,-1.0,0.1,0.6,-1.4,0.7,-0.2,1.0,-0.8,
0.5,-0.3,1.2,-1.1,0.2,0.7,-0.9,0.0,1.3,-0.6,-1.2,0.8,0.3,-0.4,1.1,-1.3,0.5,0.1,-0.8,1.2,
-0.2,0.5,-0.4,0.1,-0.7,0.6,0.0,0.3,-0.5,0.7,-0.2,0.4,-0.8,0.2,0.5,-0.3,0.0,-0.6,0.6,-0.1,
0.3,-0.4,0.8,-0.9,0.1,0.5,-1.1,0.7,-0.2,0.0,1.0,-0.6,0.4,-0.8,0.9,-0.3,-1.1,0.6,0.2,-0.5,
0.6,-0.2,-0.9,1.1,-0.5,0.3,0.0,-1.2,0.8,0.4,-0.7,1.0,-0.1,-0.4,0.7,-1.0,0.5,0.9,-0.3,-0.8,
0.2,1.0,-0.6,-0.3,0.8,-1.1,0.4,0.0,1.1,-0.8,0.3,-0.5,0.9,-1.2,0.6,-0.1,0.2,1.0,-0.9,0.4,
-1.0,0.6,0.2,-1.4,1.3,-0.4,0.8,-0.9,0.0,1.6,-1.2,0.5,-0.3,1.1,-1.6,0.7,0.1,-0.8,1.4,-0.6,
0.3,-1.1,1.5,-0.4,0.9,-1.5,0.1,0.6,-0.8,1.3,-0.2,-1.4,1.0,0.4,-0.6,1.7,-1.3,0.2,-0.5,1.2,
-0.7,1.0,-1.2,0.5,1.3,-0.4,-0.8,0.6
];
var imf3Far = [
[12,-3.8],[20,-4.0],[30,-4.2],[45,-3.9],[18,-2.5],[25,-3.0],[35,-3.5],[37,2.6],[61,3.0],[105,3.35],
[50,2.2],[12,2.3],[147,2.6],[183,-3.0],[176,-2.6],[195,-3.15],[208,1.9],[220,-3.0],[227,3.15],[237,4.25],
[242,3.85],[249,-3.85],[244,-3.55],[232,3.35],[269,5.95],[286,6.65],[298,7.4],[299,7.8],[281,5.6],[318,6.0],
[308,5.9],[313,4.6],[301,4.05],[289,3.4],[293,-4.45],[305,-6.15],[306,-6.85],[305,-8.1],[308,-8.15],[281,-3.6],
[330,-2.2],[342,-3.1],[354,-3.1],[337,-2.5],[525,2.6],[537,2.45],[537,-2.2],[550,-2.35],[623,5.0],[628,4.8],
[635,4.4],[637,4.0],[625,3.4],[623,2.45],[623,1.65],[643,-2.5],[640,-3.55],[647,-3.9],[647,-4.6],[650,-4.7],
[660,-2.75],[660,-3.3],[672,-2.2],[733,2.2],[728,-2.35],[720,-1.9],[826,2.8],[836,2.6],[843,-2.9],[848,-3.15],
[838,-2.5],[928,4.45],[930,4.25],[909,3.15],[904,-4.5],[914,-4.05],[940,-2.75],[947,-3.3],[977,-4.1],[980,-3.7],
[990,3.85],[995,3.7],[1002,3.4],[1015,-3.15],[967,3.15],[1055,5.15],[1062,5.1],[1064,4.85],[1065,4.5],[1070,4.1],
[1062,3.0],[1038,-4.25],[1043,-4.5],[1033,-3.75],[1030,-2.6],[1050,-2.45],[1075,-2.2],[1124,2.2],[1198,2.2],[1242,1.9],
[1173,-1.9],[1259,-1.8],[1319,2.35],[1314,-2.2],[1308,-2.05],[1437,3.2],[1442,2.9],[1454,2.6],[1466,2.5],[1478,2.2],
[1466,-3.1],[1468,-2.8],[1454,-2.2],[1430,-2.05],[1490,-2.45],[1625,1.9],[1632,-1.9],[1776,3.0],[1779,2.8],[1784,2.25],
[1771,-2.45],[1779,-2.65],[1771,-2.2],[1906,2.3],[1918,2.2],[1894,-2.4],[1906,-2.2],[1857,-1.9],[2064,2.1],[2150,2.5],
[2152,2.2],[2155,-2.45],[2157,-2.6],[2052,-2.0],[2101,-1.8],[2223,1.85],[2309,1.45],[2297,-1.25],[2614,1.25],[2504,-1.25],
[2741,3.2],[2743,3.0],[2738,2.6],[2750,2.5],[2687,2.05],[2750,-2.05],[2760,-2.15],[2726,-1.9],[2883,2.8],[2895,2.5],
[2883,1.9],[2871,-2.45],[2883,-2.8],[2878,-1.65],[2858,-1.8]
];

var imf4 = [
0.0,0.1,-0.2,-0.3,-0.1,0.3,0.6,0.8,0.5,-0.6,-1.2,-1.9,-0.5,1.5,2.8,3.1,1.2,-1.5,-3.5,-4.0,
-4.1,-2.8,0.5,3.0,4.3,4.6,3.2,0.2,-2.6,-4.2,-4.5,-3.0,-0.5,1.8,3.0,3.2,2.0,0.3,-0.6,-0.4,
0.5,1.5,2.1,1.0,-0.8,-2.1,-1.5,0.8,2.6,3.4,2.2,-0.5,-2.8,-3.7,-3.0,-1.0,1.2,2.5,0.8,-2.0,
-3.1,0.5,4.0,5.6,5.0,1.5,-3.0,-6.0,-6.5,-4.5,0.0,3.5,5.0,4.6,2.0,-1.0,-2.8,-2.0,0.5,1.8,
1.2,-1.0,-2.6,-3.1,-1.5,1.5,3.8,4.4,3.5,0.5,-2.5,-4.4,-5.0,-4.2,-1.5,1.8,4.0,5.0,5.1,3.8,
1.0,-2.2,-4.2,-4.9,-3.5,-0.5,2.5,4.2,4.7,3.5,0.8,-2.0,-3.8,-4.2,-2.8,-0.2,2.2,3.5,3.7,2.5,
0.5,-1.2,-1.8,-1.0,0.8,2.0,1.5,0.0,-1.2,-2.2,-2.8,-3.2,-3.0,-3.1,-2.0,0.0,2.0,3.5,4.5,4.8,
4.8,4.6,3.0,0.2,-2.5,-4.0,-4.2,-2.0,0.8,2.8,3.0,1.2,-1.0,-2.1,-1.5,0.5,2.0,2.4,1.2,-0.8,
-2.0,-2.4,-1.5,0.3,1.6,1.2,-0.2,-1.2,-1.0,0.2,1.4,2.4,3.0,3.2,3.2,2.0,0.0,-1.8,-3.0,-3.6,
-3.7,-2.5,-0.2,1.8,3.0,3.1,1.5,-0.8,-2.4,-2.7,-1.8,0.2,1.5,1.0,-0.5,-1.5,-0.8,1.0,2.5,2.9,
2.5,0.8,-1.5,-2.8,-3.0,-2.2,-0.2,1.5,2.0,1.4,-0.3,-1.5,-1.8,-0.8,0.9,2.0,1.6,0.2,-1.3,-2.2,
-2.2,-1.8,-0.5,1.0,1.8,1.2,-0.5,-1.8,-2.1,-1.0,1.0,2.1,1.5,0.8,2.0,3.4,2.8,0.5,-2.0,-3.4,
-3.7,-2.8,-0.5,1.2,1.6,0.5,-1.2,-2.4,-2.0,-0.2,1.5,2.6,2.2,0.3,-1.5,-2.7,-2.5,-1.0,0.5,1.4,
1.4,0.8,-0.3,-1.1,-0.8,0.2,1.2,1.6,1.2,0.0,-0.7,-0.8,-0.3,0.4,0.7,0.3,-0.4,-0.8,-0.6,0.2,
0.7,0.6,0.0,-0.6,-0.7,-0.2,0.5,0.8,0.4,-0.3,-0.7,-0.4,0.3,0.8,0.5,-0.6,-1.6,-1.2,0.0,1.2,
2.0,2.2,1.5,0.0,-1.3,-2.0,-2.0,-1.2,0.0,1.0,1.5,1.5,1.2,0.5,-0.5,-1.5,-2.1,-2.3,-2.0,-0.8,
0.8,2.2,3.2,3.5,3.0,1.0,-1.5,-3.0,-3.6,-3.2,-1.2,1.0,2.5,2.9,2.0,0.0,-1.5,-1.8,-0.8,0.6,
1.4,1.5,0.8,-0.4,-1.2,-1.5,-1.0,0.2,1.2,1.5,1.3,0.4,-0.6,-1.0,-0.5,0.4,0.8,0.6,0.0,-0.6,
-1.0,-1.25,-0.5,1.0,2.1,1.8,-0.5,-2.5,-3.3,-3.0,-1.5,0.5,2.2,2.9,2.7,1.2,-0.5,-1.2,-0.8,0.8,
2.2,3.2,3.45,2.6,0.5,-1.6,-2.4,-2.0,-0.5,0.8,1.0,0.2,-1.0,-1.5,-0.8,0.6,1.5,1.6,0.5,-1.0,
-1.9,-1.5,0.2,1.6,2.3,2.0,0.5,-1.0,-1.8,-1.2,0.3,1.3,0.8,-0.6,-1.5,-1.6,-0.5,0.6,1.0,0.4,
-0.8,-1.6,-1.2,0.4,1.0,0.6,-0.8,-2.0,-2.4,-1.5,0.5,2.2,3.0,2.8,0.8,-1.5,-2.8,-3.0,-2.0,0.0,
1.8,2.6,2.4,1.0,-1.2,-2.6,-2.5,-1.0,0.8,2.0,1.8,1.0,0.5,1.5,2.2,1.6,-0.2,-1.8,-2.4,-1.8,
-0.2,1.5,2.6,3.0,2.5,0.5,-1.5,-2.7,-2.5,-1.0,0.5,1.6,2.0,1.2,-0.5,-1.8,-2.2,-1.2,0.6,1.8,
2.2,1.5,-0.3,-2.0,-2.65,-2.2,-0.5,1.2,2.4,2.9,2.2,0.3,-1.6,-2.65,-2.4,-1.0,0.8,2.0,2.05,1.0,
-0.5,-1.65,-1.4,0.0,1.2,1.6,1.0,-0.2,-0.9,-0.8,0.4,1.6,2.6,2.2,0.5,-0.85,-0.8,0.3,1.2,0.9,
-0.5,-1.8,-2.8,-2.5,-0.8,1.2,2.6,3.1,2.4,0.5,-0.6,-1.15,-1.0,-0.2,0.6,1.4,2.0,2.35,2.2,1.8,
2.2,3.1,3.0,2.0,0.5,-1.0,-2.5,-3.5,-4.1,-4.3,-4.2,-3.0,-1.0,1.0,2.2,2.8,2.7,1.5,0.0,-1.0,
-1.45,-0.8,0.8,2.2,3.0,3.4,3.5,3.0,1.5,-0.8,-3.0,-5.0,-6.5,-7.2,-7.3,-7.25,-6.8,-5.5,-3.5,-1.0,
1.5,2.8,3.3,3.4,3.3,2.5,1.2,0.0
];
var imf4Mid = [
0.1,-0.1,-0.3,-0.2,0.1,0.5,0.7,0.7,0.0,-0.9,-1.6,-1.4,0.5,2.3,3.1,2.4,-0.2,-2.6,-3.9,-4.1,
-3.6,-1.3,1.9,3.8,4.6,4.1,1.8,-1.3,-3.6,-4.5,-3.9,-1.8,0.7,2.5,3.2,2.7,1.1,-0.2,-0.6,0.0,
1.0,1.9,1.7,0.1,-1.6,-2.0,-0.4,1.8,3.2,3.0,0.9,-1.7,-3.4,-3.5,-2.1,0.1,2.0,1.9,-0.6,-2.7,
-1.5,2.3,5.0,5.5,3.5,-0.8,-4.7,-6.4,-5.8,-2.3,1.9,4.5,5.0,3.5,0.5,-2.0,-2.6,-0.8,1.3,1.7,
0.1,-1.9,-3.0,-2.5,0.0,2.8,4.3,4.1,2.1,-1.0,-3.6,-4.9,-4.8,-3.0,0.2,3.0,4.7,5.2,4.6,2.5,
-0.6,-3.3,-4.7,-4.4,-2.1,1.0,3.5,4.6,4.3,2.2,-0.6,-3.0,-4.2,-3.7,-1.5,1.0,3.0,3.7,3.2,1.5,
-0.4,-1.6,-1.5,-0.1,1.5,1.9,0.8,-0.6,-1.7,-2.5,-3.0,-3.1,-3.1,-2.7,-1.0,1.0,2.8,4.1,4.7,4.9,
4.8,3.9,1.6,-1.2,-3.4,-4.2,-3.2,-0.6,1.9,3.1,2.2,0.1,-1.7,-1.9,-0.5,1.3,2.3,1.9,0.2,-1.5,
-2.3,-2.1,-0.6,1.1,1.6,0.5,-0.8,-1.2,-0.4,0.8,1.9,2.8,3.1,3.3,2.7,1.0,-0.9,-2.5,-3.4,-3.7,
-3.2,-1.4,0.9,2.5,3.2,2.4,0.4,-1.7,-2.7,-2.4,-0.8,1.0,1.4,0.3,-1.1,-1.3,0.1,1.8,2.8,2.8,
1.7,-0.4,-2.2,-3.0,-2.7,-1.3,0.7,1.9,1.8,0.6,-1.0,-1.8,-1.4,0.0,1.5,1.9,0.9,-0.6,-1.8,-2.3,
-2.1,-1.2,0.3,1.5,1.6,0.4,-1.2,-2.1,-1.7,0.0,1.7,1.9,1.1,1.3,2.8,3.3,1.8,-0.8,-2.8,-3.7,
-3.4,-1.7,0.4,1.5,1.2,-0.4,-1.9,-2.4,-1.2,0.7,2.2,2.6,1.3,-0.6,-2.2,-2.8,-1.8,-0.2,1.0,1.5,
1.2,0.3,-0.8,-1.1,-0.3,0.7,1.5,1.5,0.6,-0.4,-0.8,-0.6,0.1,0.6,0.6,-0.1,-0.7,-0.8,-0.2,0.5,
0.7,0.3,-0.3,-0.7,-0.5,0.2,0.7,0.7,0.0,-0.6,-0.6,0.0,0.6,0.7,-0.1,-1.2,-1.5,-0.6,0.6,1.7,
2.2,1.9,0.8,-0.7,-1.7,-2.1,-1.7,-0.6,0.5,1.3,1.6,1.4,0.9,0.0,-1.0,-1.9,-2.2,-2.2,-1.5,0.0,
1.5,2.8,3.4,3.3,2.1,-0.3,-2.3,-3.4,-3.5,-2.3,-0.1,1.8,2.8,2.6,1.0,-0.8,-1.7,-1.4,-0.1,1.1,
1.5,1.2,0.2,-0.8,-1.4,-1.3,-0.4,0.7,1.4,1.5,0.9,-0.1,-0.9,-0.8,0.0,0.7,0.7,0.3,-0.3,-0.8,
-1.2,-0.9,0.2,1.6,2.1,0.8,-1.6,-3.0,-3.3,-2.3,-0.5,1.4,2.6,2.9,2.0,0.3,-0.9,-1.1,0.0,1.5,
2.8,3.4,3.1,1.6,-0.6,-2.1,-2.3,-1.3,0.2,1.0,0.7,-0.4,-1.3,-1.3,-0.1,1.1,1.6,1.1,-0.3,-1.5,
-1.8,-0.7,0.9,2.0,2.3,1.3,-0.3,-1.5,-1.6,-0.5,0.9,1.2,0.1,-1.1,-1.6,-1.1,0.1,0.9,0.8,-0.2,
-1.3,-1.5,-0.4,0.8,0.9,-0.1,-1.5,-2.3,-2.1,-0.5,1.4,2.7,3.0,1.9,-0.4,-2.3,-3.0,-2.6,-1.0,0.9,
2.3,2.6,1.8,-0.1,-2.0,-2.7,-1.8,-0.1,1.5,2.0,1.4,0.7,0.9,1.9,2.0,0.7,-1.0,-2.2,-2.2,-1.0,
0.7,2.1,2.9,2.9,1.6,-0.5,-2.2,-2.7,-1.8,-0.2,1.1,1.9,1.7,0.4,-1.2,-2.1,-1.8,-0.3,1.3,2.1,
2.0,0.7,-1.2,-2.5,-2.5,-1.4,0.4,1.9,2.8,2.7,1.3,-0.7,-2.2,-2.6,-1.8,-0.1,1.5,2.1,1.6,0.2,
-1.2,-1.6,-0.7,0.7,1.5,1.4,0.4,-0.6,-1.0,-0.2,1.0,2.2,2.6,1.4,-0.3,-0.95,-0.3,0.8,1.2,0.2,
-1.2,-2.4,-2.8,-1.7,0.2,2.0,3.0,2.9,1.5,-0.1,-0.9,-1.2,-0.6,0.2,1.0,1.7,2.2,2.3,2.0,1.9,
2.7,3.2,2.6,1.3,-0.2,-1.8,-3.1,-3.9,-4.3,-4.3,-3.7,-2.0,0.0,1.7,2.6,2.9,2.2,0.8,-0.6,-1.3,
-1.2,0.0,1.5,2.7,3.3,3.5,3.3,2.4,0.4,-1.9,-4.0,-5.9,-7.0,-7.3,-7.3,-7.1,-6.2,-4.6,-2.3,0.3,
2.3,3.1,3.4,3.4,2.9,1.9,0.6
];

// smooth IMFs: values read at turning points and along the slopes
var imf5Days = [0,24,50,88,120,154,185,200,220,240,257,269,281,295,308,322,335,345,352,366,
391,415,452,481,498,520,540,586,635,684,733,770,806,843,880,909,953,990,1026,1063,
1100,1148,1209,1251,1302,1361,1405,1466,1520,1564,1595,1642,1700,1735,1784,1820,1845,1894,1979,2040,
2094,2170,2236,2297,2333,2370,2406,2455,2492,2529,2553,2602,2651,2695,2736,2773,2802,2846,2912,2944];
var imf5Vals = [0,-1.0,1.5,4.2,-3.0,-11.8,-5.0,2.0,13.0,22.0,24.9,22.5,14.0,12.0,11.0,7.0,-1.0,-12.5,-19.5,-23.8,
-21.0,-15.6,-7.1,1.5,6.7,2.0,-1.2,1.0,-2.5,4.0,-3.0,1.8,-1.5,2.7,1.0,-5.3,5.5,-4.7,4.0,-4.1,
3.6,-4.5,6.8,-8.6,8.3,-5.2,3.4,-3.0,7.6,0.0,-10.0,-14.5,-13.0,-8.4,-1.1,4.0,7.4,-2.0,3.2,-6.8,
7.2,-5.2,3.1,-1.3,1.3,-1.4,1.2,-1.2,1.0,-1.0,1.0,-1.3,1.8,-1.3,0.5,0.6,-2.0,5.7,-4.9,-0.3];

var imf6Days = [0,30,59,90,120,155,190,225,255,278,327,364,390,412,440,469,530,591,627,680,
737,790,842,896,952,998,1057,1103,1164,1225,1274,1330,1391,1470,1555,1616,1665,1743,1790,1831,
1867,1904,1957,2006,2084,2148,2200,2255,2336,2404,2470,2531,2590,2641,2690,2775,2840,2905,2934];
var imf6Vals = [0,-4.5,-6.6,-1.0,4.0,10.0,16.0,18.8,16.0,10.0,0,-10.0,-16.0,-19.2,-17.0,-10.0,0,10.0,12.0,8.0,
0,-6.0,-8.2,0,9.2,0,-10.1,0,8.6,0,-3.8,-1.5,1.2,-0.8,-3.0,0,5.0,12.6,8.0,0,
-10.0,-14.2,0,10.7,0,-3.8,-1.5,0.9,-1.0,2.5,-1.5,-6.1,-2.0,2.2,4.3,8.6,4.0,-2.6,0];

var imf7Days = [0,50,100,150,200,250,300,350,400,450,500,550,600,650,700,750,800,850,900,950,
1000,1050,1100,1150,1200,1250,1300,1350,1400,1450,1500,1550,1600,1650,1700,1750,1800,1850,1900,1950,
2000,2050,2100,2150,2200,2250,2300,2350,2400,2450,2500,2550,2600,2650,2700,2750,2800,2850,2900,2937];
var imf7Vals = [0,5.5,9.8,11.0,10.0,8.0,4.0,-1.2,-6.5,-12.0,-16.8,-19.5,-18.6,-14.0,-9.0,-2.8,3.5,8.5,10.9,11.1,
9.8,7.8,6.0,4.0,1.3,-2.2,-5.5,-7.4,-6.8,-2.0,4.0,8.5,11.5,13.0,12.8,9.5,3.0,-4.5,-11.0,-17.0,
-21.5,-22.8,-20.0,-14.5,-9.0,-4.0,-0.5,2.5,5.0,7.5,10.0,12.3,14.3,15.7,16.3,15.5,12.8,8.5,3.8,0];

var resDays = [0,50,100,150,200,250,300,350,400,450,500,550,600,650,700,750,800,850,900,950,
1000,1050,1100,1150,1200,1250,1300,1350,1400,1450,1500,1550,1600,1650,1700,1750,1800,1850,1900,1950,
2000,2050,2100,2150,2200,2250,2300,2350,2400,2450,2500,2550,2600,2650,2700,2750,2800,2850,2900,2935];
var resVals = [72.8,76.8,83.0,86.8,89.0,90.0,90.4,90.1,89.2,87.8,86.4,85.0,83.7,82.7,82.0,81.6,81.5,81.8,82.6,83.8,
85.2,87.0,88.8,91.0,93.3,95.4,97.2,98.4,99.0,99.1,98.6,97.8,96.4,94.8,92.9,90.6,87.6,84.3,80.3,75.8,
71.2,66.8,62.6,59.1,56.0,53.1,50.4,48.0,45.8,44.1,42.6,41.8,41.7,42.5,43.8,45.8,48.3,51.2,54.4,56.6];

var dayTicks = [0,500,1000,1500,2000,2500,3000];

function everyStep(vals, offset){
    return vals.map(function(v,i){ return [i*step + offset, v]; });
}
function zipDays(days, vals){
    return days.map(function(d,i){ return [d, vals[i]]; });
}

var font = '"Liberation Sans", Arial, sans-serif';

var cols = [
    {left: 84, width: 558, xMin: -106, xMax: 3058, nameGap: 67, letterX: 2},
    {left: 782, width: 551, xMin: -107, xMax: 3013, nameGap: 66, letterX: 694}
];
var rows = [
    {top: 38, height: 493, base: 37},
    {top: 655, height: 493, base: 652},
    {top: 1278, height: 492, base: 1274},
    {top: 1904, height: 490, base: 1897}
];

var panels = [
    {letter:'a', name:'IMF.1 (USD)', yMin:-7.83, yMax:7.49, yTicks:[-6,-4,-2,0,2,4,6],
        core: everyStep(imf1, 0).concat(everyStep(imf1Mid, step/2)), far: imf1Far},
    {letter:'b', name:'IMF.2 (USD)', yMin:-7.0, yMax:6.86, yTicks:[-6,-4,-2,0,2,4,6],
        core: everyStep(imf2, 0).concat(everyStep(imf2Mid, step/2)), far: imf2Far},
    {letter:'c', name:'IMF.3 (USD)', yMin:-8.79, yMax:8.38, yTicks:[-5,0,5],
        core: everyStep(imf3, 0).concat(everyStep(imf3Mid, step/2)), far: imf3Far},
    {letter:'d', name:'IMF.4 (USD)', yMin:-7.73, yMax:6.09, yTicks:[-6,-4,-2,0,2,4,6],
        core: everyStep(imf4, 0).concat(everyStep(imf4Mid, step/2)), far: []},
    {letter:'e', name:'IMF.5 (USD)', yMin:-26.1, yMax:27.2, yTicks:[-20,-10,0,10,20], curve: zipDays(imf5Days, imf5Vals)},
    {letter:'f', name:'IMF.6 (USD)', yMin:-20.9, yMax:20.5, yTicks:[-20,-10,0,10,20], curve: zipDays(imf6Days, imf6Vals)},
    {letter:'g', name:'IMF.7 (USD)', yMin:-24.8, yMax:18.1, yTicks:[-20,-10,0,10], curve: zipDays(imf7Days, imf7Vals)},
    {letter:'h', name:'RES (USD)', yMin:39.4, yMax:101.1, yTicks:[40,50,60,70,80,90,100], curve: zipDays(resDays, resVals)}
];

var grid = [], xAxis = [], yAxis = [], series = [], graphic = [];

panels.forEach(function(p, i){
    var col = cols[i % 2], row = rows[Math.floor(i / 2)];
    grid.push({
        left: col.left, top: row.top, width: col.width, height: row.height,
        show: true, borderColor: '#000', borderWidth: 1.5, backgroundColor: 'transparent'
    });
    xAxis.push({
        gridIndex: i, type: 'value', min: col.xMin, max: col.xMax,
        name: 'Day', nameLocation: 'middle', nameGap: 64,
        nameTextStyle: {fontSize: 15, color: '#000', fontFamily: font},
        axisLine: {show: false, onZero: false}, splitLine: {show: false},
        axisTick: {show: true, customValues: dayTicks, length: 10, lineStyle: {color: '#000', width: 1.3}},
        axisLabel: {customValues: dayTicks, margin: 22, fontSize: 15, color: '#000', fontFamily: font,
            formatter: function(v){ return String(v); }}
    });
    yAxis.push({
        gridIndex: i, type: 'value', min: p.yMin, max: p.yMax,
        name: p.name, nameLocation: 'middle', nameGap: col.nameGap,
        nameTextStyle: {fontSize: 15, color: '#000', fontFamily: font},
        axisLine: {show: false, onZero: false}, splitLine: {show: false},
        axisTick: {show: true, customValues: p.yTicks, length: 12, lineStyle: {color: '#000', width: 1.3}},
        axisLabel: {customValues: p.yTicks, rotate: 90, margin: 42, fontSize: 15, color: '#000', fontFamily: font}
    });
    if (p.core) {
        series.push({
            type: 'scatter', xAxisIndex: i, yAxisIndex: i, data: p.core,
            symbol: 'circle', symbolSize: 9, silent: true, large: false,
            itemStyle: {color: 'transparent', borderColor: '#000', borderWidth: 1.8}
        });
        series.push({
            type: 'scatter', xAxisIndex: i, yAxisIndex: i, data: p.far,
            symbol: 'circle', symbolSize: 8, silent: true, large: false,
            itemStyle: {color: 'transparent', borderColor: '#000', borderWidth: 1.2}
        });
    } else {
        series.push({
            type: 'line', xAxisIndex: i, yAxisIndex: i, data: p.curve,
            smooth: 0.4, smoothMonotone: 'x', showSymbol: false, silent: true,
            lineStyle: {color: '#141414', width: 12, cap: 'round', join: 'round'}
        });
    }
    graphic.push({
        type: 'text', x: col.letterX, y: row.base - 18,
        style: {text: p.letter, font: '50px ' + font, fill: '#000', verticalAlign: 'middle'}
    });
});

var chart = echarts.init(document.getElementById('container'), null, {renderer: 'canvas'});
chart.setOption({
    animation: false,
    backgroundColor: '#fff',
    grid: grid,
    xAxis: xAxis,
    yAxis: yAxis,
    series: series,
    graphic: graphic
});
</script>
</body>
</html>
